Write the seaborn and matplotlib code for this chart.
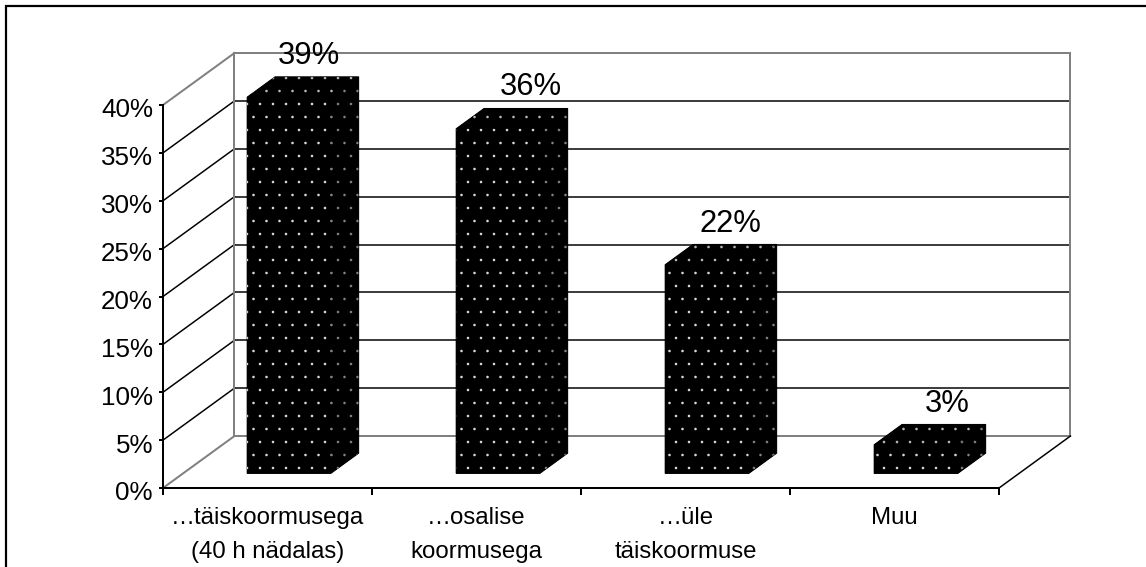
"""Bar chart with a hand-built 3D look: working-time shares."""

import matplotlib
matplotlib.use("Agg")
import matplotlib.pyplot as plt
import matplotlib.transforms as mtransforms
from matplotlib.patches import Polygon, Rectangle
import seaborn as sns

# ── Data ───────────────────────────────────────────────────────────────────────
CATEGORIES = ["…täiskoormusega\n(40 h nädalas)", "…osalise\nkoormusega",
              "…üle\ntäiskoormuse", "Muu"]
VALUES = [39.3, 36.0, 21.8, 3.0]
VALUE_LABELS = ["39%", "36%", "22%", "3%"]
TICK_VALUES = [0, 5, 10, 15, 20, 25, 30, 35, 40]
TICK_LABELS = ["0%", "5%", "10%", "15%", "20%", "25%", "30%", "35%", "40%"]

# ── Setup ──────────────────────────────────────────────────────────────────────
DPI = 78
W, H = 1146, 567
px = 72 / DPI  # one pixel in points

sns.set_theme(style="white")
plt.rcParams["font.family"] = ["Liberation Sans", "DejaVu Sans"]
plt.rcParams["hatch.linewidth"] = 0.0

# depth of the floor, in data units, and where the bars stand on it
DEPTH_X, DEPTH_Y = 0.342, 5.43
BAR_FRONT, BAR_BACK = 0.28, 0.67
BAR_NUDGE = 0.007
GRAY = "#808080"
# label shift from the bar's back top edge, pixels
LABEL_SHIFT = [(-8, 13), (5, 13), (-4, 12), (3, 12)]


def project(x, y, d):
    return x + d * DEPTH_X, y + d * DEPTH_Y


def wall_line(ax, p0, p1, color="black", lw=1.5):
    ax.plot(*zip(p0, p1), color=color, lw=lw * px, clip_on=False, zorder=2,
            solid_capstyle="projecting")


fig = plt.figure(figsize=(W / DPI, H / DPI), dpi=DPI)
ax = fig.add_axes([163 / W, (H - 488) / H, (999 - 163) / W, (488 - 105) / H])

sns.barplot(x=CATEGORIES, y=VALUES, width=0.4, color="black", saturation=1,
            ax=ax, zorder=5)
ax.set_xlim(-0.5, len(CATEGORIES) - 0.5)
ax.set_ylim(0, 40)
ax.patch.set_alpha(0)

# ── Walls and floor ────────────────────────────────────────────────────────────
x0, x1 = ax.get_xlim()
for v in TICK_VALUES[1:-1]:
    wall_line(ax, project(x0, v, 0), project(x0, v, 1))
    wall_line(ax, project(x0, v, 1), project(x1, v, 1))
for v in (TICK_VALUES[0], TICK_VALUES[-1]):
    wall_line(ax, project(x0, v, 0), project(x0, v, 1), GRAY, 2)
    wall_line(ax, project(x0, v, 1), project(x1, v, 1), GRAY, 2)
wall_line(ax, project(x0, 0, 1), project(x0, 40, 1), GRAY, 2)
wall_line(ax, project(x1, 0, 1), project(x1, 40, 1), GRAY, 2)
wall_line(ax, project(x1, 0, 0), project(x1, 0, 1))

# ── Bars: front from seaborn, side and top built on it ─────────────────────────
for bar, label, shift in zip(list(ax.patches), VALUE_LABELS, LABEL_SHIFT):
    bx, bw, bh = bar.get_x(), bar.get_width(), bar.get_height()
    fx, fy = project(bx + BAR_NUDGE, 0, BAR_FRONT)
    bar.set_xy((fx, fy))
    bar.set(hatch=".", edgecolor="#d8d8d8", facecolor="black", linewidth=0, clip_on=False)
    l, r, t = fx, fx + bw, fy + bh
    dx = (BAR_BACK - BAR_FRONT) * DEPTH_X
    dy = (BAR_BACK - BAR_FRONT) * DEPTH_Y
    top = [(l, t), (r, t), (r + dx, t + dy), (l + dx, t + dy)]
    side = [(r, fy), (r + dx, fy + dy), (r + dx, t + dy), (r, t)]
    outline = [(l, fy), (r, fy), (r + dx, fy + dy), (r + dx, t + dy), (l + dx, t + dy), (l, t)]
    # solid shape underneath so no white seams show between the faces
    ax.add_patch(Polygon(outline, facecolor="black", edgecolor="black", linewidth=1 * px,
                         clip_on=False, zorder=4))
    for pts, dots in ((top, "#b8b8b8"), (side, "#808080")):
        ax.add_patch(Polygon(pts, facecolor="black", edgecolor=dots, hatch=".",
                             linewidth=0, clip_on=False, zorder=5))
    ax.annotate(label, (l + bw / 2 + dx, t + dy), xytext=shift, textcoords="offset pixels",
                ha="center", va="baseline", fontsize=31 * px, color="black",
                annotation_clip=False, zorder=6)

# ── Axes ───────────────────────────────────────────────────────────────────────
sns.despine(ax=ax)
for spine in ("left", "bottom"):
    ax.spines[spine].set_linewidth(2 * px)
    ax.spines[spine].set_color("black")
    ax.spines[spine].set_zorder(6)

ax.set_yticks(TICK_VALUES, TICK_LABELS)
ax.tick_params(axis="y", left=True, length=4 * px, width=2 * px, color="black",
               labelsize=26 * px, labelcolor="black", pad=6 * px)
# the percent labels sit a little under their ticks
drop = mtransforms.ScaledTranslation(0, -3 / DPI, fig.dpi_scale_trans)
for tick in ax.yaxis.get_major_ticks():
    tick.label1.set_transform(tick.label1.get_transform() + drop)

centres = list(range(len(CATEGORIES)))
edges = [c - 0.5 for c in centres] + [centres[-1] + 0.5]
ax.set_xticks(edges, [""] * len(edges))
ax.set_xticks(centres, CATEGORIES, minor=True, linespacing=1.72)
ax.tick_params(axis="x", which="major", bottom=True, length=7 * px, width=2 * px, color="black")
ax.tick_params(axis="x", which="minor", bottom=False, length=0,
               labelsize=24 * px, labelcolor="black", pad=19 * px)
ax.set_xlabel("")
ax.set_ylabel("")

# outer frame: only its top and left edges fall inside the picture
fig.add_artist(Rectangle((6 / W, -0.05), 1.05, 1.05 - 6 / H, transform=fig.transFigure,
                         facecolor="none", edgecolor="black", linewidth=2.2 * px))

fig.savefig("out.png", dpi=DPI)
